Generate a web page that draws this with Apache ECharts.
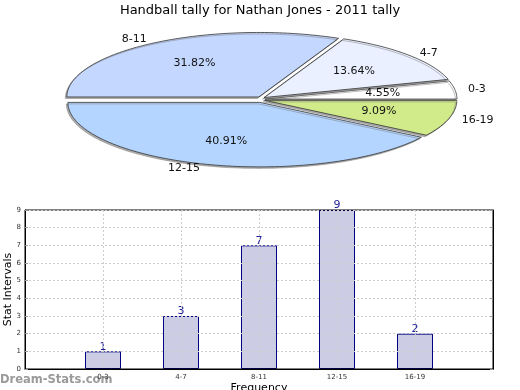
<!DOCTYPE html>
<html><head><meta charset="utf-8">
<script src="https://cdn.jsdelivr.net/npm/echarts@6/dist/echarts.min.js"></script>
<style>html,body{margin:0;padding:0;background:#fff}#c{width:520px;height:390px}</style>
</head><body><div id="c"></div>
<script>
var titleText = 'Handball tally for Nathan Jones - 2011 tally';
var categories = ['0-3', '4-7', '8-11', '12-15', '16-19'];
var values = [1, 3, 7, 9, 2];
var sliceColors = ['#ffffff', '#eaf0ff', '#c4d7ff', '#b4d5ff', '#d1eb8b'];
var yTicks = [0, 1, 2, 3, 4, 5, 6, 7, 8, 9];
var xAxisName = 'Frequency';
var yAxisName = 'Stat Intervals';
var watermark = 'Dream-Stats.com';

var total = values.reduce(function (a, b) { return a + b; }, 0);
var starts = [];
var acc = 0;
values.forEach(function (v) { starts.push(acc); acc += v; });

function renderSlice(params, api) {
  var i = params.dataIndex;
  var a0 = starts[i] / total * 2 * Math.PI;
  var a1 = (starts[i] + values[i]) / total * 2 * Math.PI;
  var mid = (a0 + a1) / 2;
  var cm = Math.cos(mid), sm = Math.sin(mid);
  var ox = 4 * cm, oy = -3 * sm;
  var c = api.coord([0, 0]);
  var pts = [[c[0] + ox, c[1] + oy]];
  var n = Math.max(8, Math.ceil((a1 - a0) / 0.02));
  for (var k = 0; k <= n; k++) {
    var t = a0 + (a1 - a0) * k / n;
    var p = api.coord([Math.cos(t), Math.sin(t)]);
    pts.push([p[0] + ox, p[1] + oy]);
  }
  var lp = api.coord([0.62 * cm, 0.62 * sm]);
  var ep = api.coord([cm, sm]);
  var side = cm >= 0 ? 1 : -1;
  var nx = ep[0] + cm * 14 + side * 3;
  var ny = ep[1] - sm * 7;
  var pct = (values[i] / total * 100).toFixed(2) + '%';
  return {
    type: 'group',
    children: [
      {
        type: 'polygon',
        shape: { points: pts },
        style: {
          fill: sliceColors[i], stroke: '#333', lineWidth: 0.8,
          shadowColor: 'rgba(120,120,120,0.6)', shadowBlur: 0,
          shadowOffsetX: -1.5, shadowOffsetY: 1.5
        }
      },
      {
        type: 'text', x: lp[0] + ox, y: lp[1] + oy, z2: 10,
        style: { text: pct, fill: '#111', fontSize: 11, fontFamily: 'DejaVu Sans',
          align: 'center', verticalAlign: 'middle' }
      },
      {
        type: 'text', x: nx, y: ny, z2: 10,
        style: { text: categories[i], fill: '#111', fontSize: 11, fontFamily: 'DejaVu Sans',
          align: side > 0 ? 'left' : 'right', verticalAlign: 'middle' }
      }
    ]
  };
}

var chart = echarts.init(document.getElementById('c'), null, { renderer: 'canvas' });
chart.setOption({
  animation: false,
  backgroundColor: '#fff',
  textStyle: { fontFamily: 'DejaVu Sans' },
  title: {
    text: titleText, left: 'center', top: -1,
    textStyle: { fontSize: 13, fontWeight: 'normal', color: '#000', fontFamily: 'DejaVu Sans' }
  },
  graphic: [{
    type: 'text', left: 0, top: 374,
    style: { text: watermark, fill: '#9a9a9a', font: 'bold 11.5px "DejaVu Sans"' }
  }],
  grid: [
    { left: 69, top: 35, width: 384, height: 129, outerBoundsMode: 'none', containLabel: false },
    { left: 25, right: 27, top: 210, bottom: 21, show: true, borderColor: '#000', borderWidth: 1, z: 5,
      outerBoundsMode: 'none', containLabel: false }
  ],
  xAxis: [
    { gridIndex: 0, type: 'value', min: -1, max: 1, show: false },
    {
      gridIndex: 1, type: 'value', min: 0, max: 6, interval: 1, z: 5,
      name: xAxisName, nameLocation: 'middle', nameGap: 14, nameMoveOverlap: false,
      nameTextStyle: { fontSize: 11, color: '#000', fontFamily: 'DejaVu Sans' },
      axisLine: { show: true, lineStyle: { color: '#000', width: 1 } },
      axisTick: { show: false },
      axisLabel: {
        fontSize: 7, color: '#333', margin: 5, fontFamily: 'DejaVu Sans',
        formatter: function (v) { return (v >= 1 && v <= categories.length) ? categories[v - 1] : ''; }
      },
      splitLine: { show: true, lineStyle: { color: '#cdcdcd', type: [2, 2], width: 1 } }
    }
  ],
  yAxis: [
    { gridIndex: 0, type: 'value', min: -1, max: 1, show: false },
    {
      gridIndex: 1, type: 'value', min: yTicks[0], max: yTicks[yTicks.length - 1], interval: 1, z: 5,
      name: yAxisName, nameLocation: 'middle', nameGap: 11, nameRotate: 90, nameMoveOverlap: false,
      nameTextStyle: { fontSize: 11, color: '#000', fontFamily: 'DejaVu Sans' },
      axisLine: { show: true, lineStyle: { color: '#000', width: 1 } },
      axisTick: { show: true, inside: true, length: 3, lineStyle: { color: '#999' } },
      axisLabel: { fontSize: 7, color: '#333', margin: 4, fontFamily: 'DejaVu Sans' },
      splitLine: { show: true, lineStyle: { color: '#cdcdcd', type: [2, 2], width: 1 } }
    },
    {
      gridIndex: 1, type: 'value', position: 'right', min: yTicks[0], max: yTicks[yTicks.length - 1], interval: 1, z: 5,
      axisLine: { show: true, lineStyle: { color: '#000', width: 1 } },
      axisTick: { show: true, inside: true, length: 3, lineStyle: { color: '#999' } },
      axisLabel: { show: false },
      splitLine: { show: false }
    }
  ],
  series: [
    {
      type: 'custom', xAxisIndex: 0, yAxisIndex: 0,
      data: values.map(function (v, i) { return [i, v]; }),
      renderItem: renderSlice
    },
    {
      type: 'bar', xAxisIndex: 1, yAxisIndex: 1, barWidth: 36,
      data: values.map(function (v, i) { return [i + 1, v]; }),
      itemStyle: { color: '#ccccE4', borderColor: '#000080', borderWidth: 1 },
      label: { show: true, position: 'top', distance: -1, fontSize: 11, color: '#22229a', fontFamily: 'DejaVu Sans' }
    }
  ]
});
</script></body></html>
